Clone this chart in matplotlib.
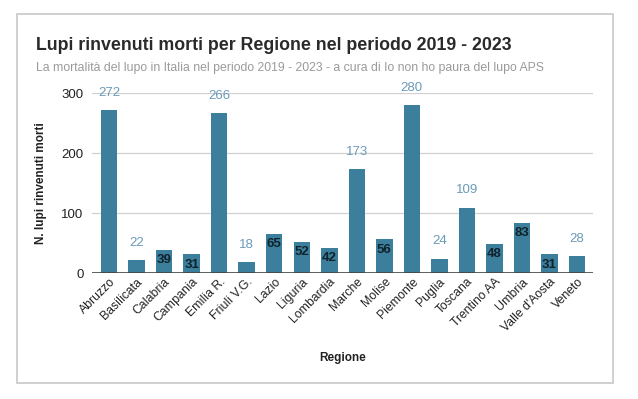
import matplotlib.pyplot as plt
from matplotlib.patches import Rectangle

# data
regions = ['Abruzzo', 'Basilicata', 'Calabria', 'Campania', 'Emilia R.', 'Friuli V.G.',
           'Lazio', 'Liguria', 'Lombardia', 'Marche', 'Molise', 'Piemonte', 'Puglia',
           'Toscana', 'Trentino AA', 'Umbria', "Valle d'Aosta", 'Veneto']
deaths = [272, 22, 39, 31, 266, 18, 65, 52, 42, 173, 56, 280, 24, 109, 48, 83, 31, 28]
# regions whose label sits inside the bar in the original
inside_labels = ['Calabria', 'Campania', 'Lazio', 'Liguria', 'Lombardia', 'Molise',
                 'Trentino AA', 'Umbria', "Valle d'Aosta"]
yticks = [0, 100, 200, 300]

plt.rcParams['font.family'] = ['Liberation Sans', 'DejaVu Sans']

W, H = 638, 399
fig = plt.figure(figsize=(W / 100, H / 100), dpi=100)

# outer frame
fig.patches.append(Rectangle((17 / W, 1 - 383 / H), (613 - 17) / W, (383 - 14) / H,
                             transform=fig.transFigure, fill=False,
                             edgecolor='#c8c8c8', linewidth=1.2))

ax = fig.add_axes([92 / W, 1 - 273 / H, (593 - 92) / W, (273 - 93) / H])

x = list(range(len(regions)))
bars = ax.bar(x, deaths, width=0.6, color='#3b7f9c', zorder=3)

for i, (b, v) in enumerate(zip(bars, deaths)):
    if regions[i] in inside_labels:
        ax.annotate(str(v), (b.get_x() + b.get_width() / 2, v), xytext=(0, -3),
                    textcoords='offset points', ha='center', va='top',
                    fontsize=9.5, fontweight='bold', color='#10222c', zorder=4)
    else:
        ax.annotate(str(v), (b.get_x() + b.get_width() / 2, v), xytext=(0, 8),
                    textcoords='offset points', ha='center', va='bottom',
                    fontsize=9.5, color='#6b9ab8', zorder=4, annotation_clip=False)

ax.set_xlim(-0.62, len(regions) - 1 + 0.58)
ax.set_ylim(0, 300)
ax.set_yticks(yticks)
ax.grid(axis='y', color='#d0d0d0', linewidth=0.9, zorder=0)
ax.axhline(0, color='#444444', linewidth=1.2, zorder=4)

for s in ax.spines.values():
    s.set_visible(False)
ax.tick_params(axis='y', length=0, pad=6, labelsize=9.5, labelcolor='#222222')
ax.tick_params(axis='x', length=0, pad=2, labelsize=8.8, labelcolor='#222222')
ax.set_xticks(x)
ax.set_xticklabels(regions, rotation=45, ha='right', rotation_mode='anchor')

ax.set_ylabel('N. lupi rinvenuti morti', fontsize=8.5, fontweight='bold', color='#222222')
ax.yaxis.set_label_coords(-0.09, 0.5)
ax.set_xlabel('Regione', fontsize=8.5, fontweight='bold', color='#222222')
ax.xaxis.set_label_coords(0.5, -0.44)

fig.text(36 / W, 1 - 45 / H, 'Lupi rinvenuti morti per Regione nel periodo 2019 - 2023',
         fontsize=12.8, fontweight='bold', color='#2a2a2a', va='center', ha='left')
fig.text(36 / W, 1 - 68 / H,
         'La mortalità del lupo in Italia nel periodo 2019 - 2023 - a cura di Io non ho paura del lupo APS',
         fontsize=8.8, color='#9a9a9a', va='center', ha='left')

fig.savefig('out.png', dpi=100, facecolor='white')
